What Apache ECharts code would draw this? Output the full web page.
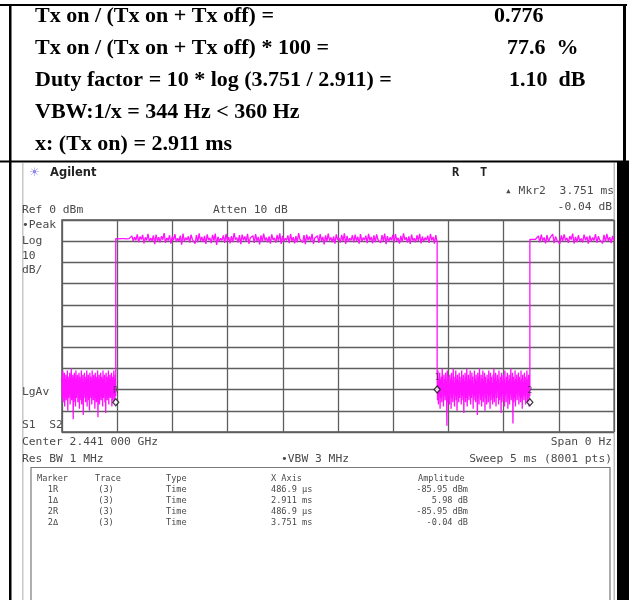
<!DOCTYPE html>
<html>
<head>
<meta charset="utf-8">
<script src="https://cdn.jsdelivr.net/npm/echarts@6/dist/echarts.min.js"></script>
<style>
html,body{margin:0;padding:0;background:#fff;}
#chart{width:629px;height:600px;}
</style>
</head>
<body>
<div id="chart"></div>
<script>
// ---- header (calculation) table text ----
const calcLabels = [
  "Tx on / (Tx on + Tx off) =",
  "Tx on / (Tx on + Tx off) * 100 =",
  "Duty factor = 10 * log (3.751 / 2.911) =",
  "VBW:1/x = 344 Hz < 360 Hz",
  "x: (Tx on) = 2.911 ms"
];
const calcValues = ["0.776", "77.6  %", "1.10  dB", "", ""];

// ---- analyzer settings ----
const sweepMs = 5;          // x axis: 0 .. 5 ms
const refLevel = 0;         // dBm, top of screen
const dbPerDiv = 10;
const xTicks = [0, 0.5, 1, 1.5, 2, 2.5, 3, 3.5, 4, 4.5, 5];

// ---- trace segments (time in ms, level in dBm) ----
const segBounds = [0, 0.4869, 3.398, 4.238, 5];
const off1 = [
-74,-84,-71,-86,-76,-81,-72,-88,-75,-83,-73,-85,-77,-80,-71,-90,-74,-84,-76,-82,
-72,-87,-75,-83,-70,-85,-77,-81,-73,-94,-74,-86,-72,-82,-76,-88,-71,-84,-75,-80,
-73,-86,-77,-83,-72,-89,-74,-81,-76,-85,-71,-87,-75,-82,-73,-92,-77,-84,-72,-80,
-74,-86,-76,-83,-71,-88,-75,-81,-73,-85,-77,-90,-72,-84,-74,-82,-76,-87,-71,-83,
-75,-85,-73,-80,-77,-89,-72,-84,-74,-86,-76,-81,-71,-93,-75,-83,-73,-87,-77,-82,
-72,-85,-74,-80,-76,-88,-71,-84,-75,-82,-73,-86,-77,-91,-72,-83,-74,-85,-76,-81,
-71,-87,-75,-83,-73,-84,-77,-80,-72,-88,-74,-85,-76,-82,-71,-86,-75,-84,-73,-83];
const on1 = [
-8.8,-8.8,-8.9,-8.8,-8.8,-8.9,-8.8,-8.8,-8.9,-8.8,-8.8,-8.9,-7.5,-10,-8,-9.5,-6.8,-10.5,-7.8,-9.2,
-7,-11,-8.2,-9.6,-6.5,-10.2,-8.5,-9.8,-7.3,-11.4,-6.9,-9.9,-8.1,-10.6,-7.6,-9.3,-6.2,-10.8,-8.4,-9.7,
-7.2,-11.1,-7.9,-9.5,-6.7,-10.3,-8.6,-9.9,-7.4,-11.6,-6.4,-10.1,-8.3,-9.4,-7.7,-10.7,-6.9,-9.2,-8.7,-11.2,
-7.1,-10.5,-6.3,-9.8,-8.0,-10.4,-7.5,-11.3,-6.8,-9.5,-8.4,-10.9,-7.0,-9.7,-6.4,-11.7,-7.9,-10.1,-8.6,-9.6,
-7.3,-10.8,-6.6,-9.9,-8.1,-11.0,-7.6,-10.4,-6.2,-9.3,-8.3,-10.6,-7.1,-11.4,-6.9,-9.6,-7.8,-10.2,-6.5,-11.2,
-8.5,-9.4,-7.4,-10.8,-6.7,-9.8,-8.0,-11.5,-7.2,-10.3,-6.4,-9.7,-8.2,-10.5,-7.7,-11.1,-6.8,-9.4,-8.4,-10.7,
-7.0,-9.9,-6.3,-11.3,-7.5,-10.3,-8.6,-9.6,-7.3,-10.9,-6.6,-9.9,-8.1,-11.0,-7.6,-10.4,-6.2,-9.2,-8.3,-10.6,
-7.1,-11.4,-6.9,-9.6,-7.8,-10.0,-6.5,-11.2,-8.5,-9.3,-7.4,-10.8,-6.7,-9.8,-8.0,-11.5,-7.2,-10.2,-6.4,-9.7,
-8.2,-10.5,-7.7,-11.1,-6.8,-9.4,-8.4,-10.7,-7.0,-9.9,-6.3,-11.3,-7.5,-10.3,-8.6,-9.6,-7.2,-10.6,-6.9,-9.8,
-7.9,-11.2,-6.6,-10.1,-8.3,-9.5,-7.4,-10.9,-6.5,-9.7,-8.0,-11.0,-7.3,-10.4,-6.8,-9.3,-8.5,-10.8,-7.1,-9.9,
-6.4,-11.4,-7.6,-10.2,-8.2,-9.6,-7.0,-10.7,-6.7,-9.8,-8.4,-11.1,-7.5,-10.3,-6.3,-9.4,-8.1,-10.6,-7.7,-11.3,
-6.9,-9.7,-8.6,-10.5,-7.2,-9.9,-6.5,-11.0,-7.8,-10.1,-8.3,-9.5,-7.4,-10.8,-6.6,-9.6,-8.0,-11.2,-7.1,-10.4];
const off2 = [
-73,-85,-71,-87,-76,-82,-72,-89,-75,-84,-74,-86,-70,-81,-77,-88,-73,-83,-75,-85,
-72,-80,-76,-97,-71,-86,-74,-83,-77,-87,-73,-81,-75,-89,-72,-84,-76,-86,-70,-82,
-74,-88,-77,-83,-71,-85,-75,-90,-73,-82,-76,-86,-72,-84,-74,-80,-77,-87,-71,-83,
-75,-85,-73,-91,-76,-82,-72,-86,-74,-84,-70,-88,-77,-81,-73,-85,-75,-83,-71,-87,
-76,-84,-72,-82,-74,-89,-77,-85,-71,-83,-75,-86,-73,-80,-76,-92,-72,-84,-74,-87,
-70,-82,-77,-85,-73,-88,-75,-83,-71,-86,-76,-81,-72,-90,-74,-84,-77,-87,-73,-82,
-75,-86,-71,-83,-76,-89,-72,-85,-74,-81,-77,-87,-73,-84,-70,-86,-75,-82,-72,-88,
-76,-84,-73,-80,-75,-87,-71,-85,-77,-83,-74,-91,-72,-86,-76,-82,-73,-85,-75,-88,
-71,-83,-77,-86,-74,-81,-72,-89,-76,-84,-73,-87,-75,-82,-70,-85,-77,-83,-72,-96,
-74,-86,-76,-84,-71,-88,-75,-82,-73,-85,-77,-80,-72,-87,-74,-83,-76,-86,-71,-84,
-75,-89,-73,-82,-77,-85,-72,-83,-74,-87,-76,-81,-71,-86,-75,-84,-73,-88,-76,-83];
const on2 = [
-9.2,-9.2,-9.1,-9.2,-9.1,-9.2,-7.5,-10.6,-6.9,-9.8,-8.2,-11.0,-7.1,-10.2,-8.6,-9.4,-6.6,-10.9,-7.8,-9.6,
-8.9,-11.3,-7.3,-10.0,-6.8,-9.7,-8.4,-10.8,-7.6,-9.3,-6.4,-11.1,-8.0,-10.4,-7.2,-9.9,-8.7,-10.6,-6.9,-9.5,
-7.9,-11.2,-7.4,-10.1,-8.3,-9.6,-6.7,-10.7,-7.7,-9.4,-8.5,-11.0,-7.0,-10.3,-6.5,-9.8,-8.1,-10.9,-7.5,-9.7];
const segLevels = [off1, on1, off2, on2];

// ---- markers ----
const markerTimes = [0.4869, 3.398, 4.238];
const markerLevels = [-85.95, -79.97, -85.99];
const markerTags = ["R", "1", "2"];

// ---- marker table ----
const tblHead = ["Marker", "Trace", "Type", "X Axis", "Amplitude"];
const tblMarker = ["1R", "1\u0394", "2R", "2\u0394"];
const tblTrace = ["(3)", "(3)", "(3)", "(3)"];
const tblType = ["Time", "Time", "Time", "Time"];
const tblX = ["486.9 \u00b5s", "2.911 ms", "486.9 \u00b5s", "3.751 ms"];
const tblAmp = ["-85.95 dBm", "5.98 dB", "-85.95 dBm", "-0.04 dB"];

// ---- build trace ----
const trace = [];
segLevels.forEach((arr, s) => {
  const t0 = segBounds[s], t1 = segBounds[s + 1];
  arr.forEach((v, i) => {
    trace.push([t0 + (t1 - t0) * i / (arr.length - 1), v]);
  });
});
const markerData = markerTimes.map((t, i) => [t, markerLevels[i], markerTags[i]]);

const chart = echarts.init(document.getElementById('chart'), null, {renderer: 'canvas'});

const mono = '"DejaVu Sans Mono", "Liberation Mono", monospace';
const serif = '"Liberation Serif", "Times New Roman", serif';
const scrCol = '#4a4a4a';

const g = [];
// outer black frame lines
g.push({type:'rect', shape:{x:0, y:4, width:627, height:2}, style:{fill:'#000'}});
g.push({type:'rect', shape:{x:9, y:4, width:2.5, height:596}, style:{fill:'#000'}});
g.push({type:'rect', shape:{x:623, y:4, width:3, height:158}, style:{fill:'#000'}});
g.push({type:'rect', shape:{x:0, y:160.5, width:629, height:2}, style:{fill:'#000'}});
g.push({type:'rect', shape:{x:617, y:161, width:12, height:439}, style:{fill:'#000'}});
// screenshot border (light gray)
g.push({type:'rect', shape:{x:22, y:163, width:1.5, height:437}, style:{fill:'#c8c8c8'}});
g.push({type:'rect', shape:{x:613.5, y:163, width:1.5, height:437}, style:{fill:'#bdbdbd'}});

// calc text
const rowY = [16, 48, 80, 112, 144];
calcLabels.forEach((t, i) => {
  g.push({type:'text', x:35, y:rowY[i], style:{text:t, font:'bold 22px ' + serif, fill:'#000', textVerticalAlign:'middle'}});
});
const valX = [494, 507, 509];
calcValues.forEach((t, i) => {
  if (t) g.push({type:'text', x:valX[i], y:rowY[i], style:{text:t, font:'bold 22px ' + serif, fill:'#000', textVerticalAlign:'middle'}});
});

// screenshot header texts
function st(text, x, y, opts) {
  opts = opts || {};
  g.push({type:'text', x:x, y:y, style:{text:text, font:(opts.font || ('11.3px ' + mono)), fill:(opts.fill || scrCol), textAlign:(opts.align || 'left'), textVerticalAlign:'middle'}});
}
st('\u2600', 29, 173, {font:'12px "DejaVu Sans"', fill:'#8f86ee'});
st('Agilent', 50, 173, {font:'bold 11.5px "DejaVu Sans", Arial', fill:'#222'});
st('R', 452, 173, {font:'bold 12px ' + mono, fill:'#222'});
st('T', 480, 173, {font:'bold 12px ' + mono, fill:'#222'});
st('\u25b4 Mkr2', 505, 191);
st('3.751 ms', 614, 191, {align:'right'});
st('-0.04 dB', 612, 207, {align:'right'});
st('Ref 0 dBm', 22, 210);
st('Atten 10 dB', 213, 210);
st('\u2022Peak', 22, 225);
st('Log', 22, 241);
st('10', 22, 256);
st('dB/', 22, 270);
st('LgAv', 22, 392);
st('S1  S2', 22, 425);
st('Center 2.441 000 GHz', 22, 442);
st('Span 0 Hz', 612, 442, {align:'right'});
st('Res BW 1 MHz', 22, 459);
st('\u2022VBW 3 MHz', 315, 459, {align:'center'});
st('Sweep 5 ms (8001 pts)', 612, 459, {align:'right'});

// marker table box
g.push({type:'rect', shape:{x:31, y:467.5, width:579, height:140}, style:{fill:'none', stroke:'#7a7a7a', lineWidth:1.2}});
const tf = '8.6px ' + mono;
const rowsY = [479, 490, 501, 512, 523];
st(tblHead[0], 37, rowsY[0], {font:tf});
st(tblHead[1], 95, rowsY[0], {font:tf});
st(tblHead[2], 166, rowsY[0], {font:tf});
st(tblHead[3], 271, rowsY[0], {font:tf});
st(tblHead[4], 418, rowsY[0], {font:tf});
for (let i = 0; i < 4; i++) {
  const y = rowsY[i + 1];
  st(tblMarker[i], 53, y, {font:tf, align:'center'});
  st(tblTrace[i], 106, y, {font:tf, align:'center'});
  st(tblType[i], 166, y, {font:tf});
  st(tblX[i], 271, y, {font:tf});
  st(tblAmp[i], 468, y, {font:tf, align:'right'});
}

const gridLine = {show:true, lineStyle:{color:'#5e5e5e', width:1.3, type:'solid'}};

chart.setOption({
  animation: false,
  backgroundColor: '#fff',
  graphic: g,
  grid: {left:62, top:220, width:552, height:212, show:true, borderColor:'#555', borderWidth:1.5, backgroundColor:'transparent'},
  xAxis: {
    type:'value', min:0, max:sweepMs, interval:xTicks[1] - xTicks[0],
    axisLine:{show:false}, axisTick:{show:false}, axisLabel:{show:false},
    splitLine: gridLine
  },
  yAxis: {
    type:'value', min:refLevel - 10 * dbPerDiv, max:refLevel, interval:dbPerDiv,
    axisLine:{show:false}, axisTick:{show:false}, axisLabel:{show:false},
    splitLine: gridLine
  },
  series: [
    {
      type:'line', data:trace, showSymbol:false, symbol:'none',
      lineStyle:{color:'#ff10ff', width:1.3}, z:3
    },
    {
      type:'scatter', data:markerData, symbol:'diamond', symbolSize:[6,7],
      itemStyle:{color:'#fff', borderColor:'#111', borderWidth:1.3}, z:5,
      label:{show:true, position:'top', distance:3, formatter:p => p.data[2], fontSize:8, fontFamily:'DejaVu Sans Mono', color:'#333'}
    }
  ]
});
</script>
</body>
</html>
